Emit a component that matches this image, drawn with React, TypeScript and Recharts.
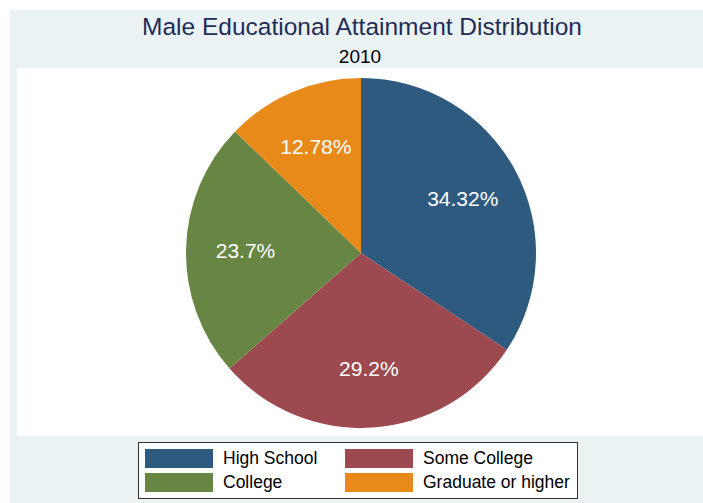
import { Cell, Legend, Pie, PieChart } from 'recharts';

const categories = ['High School', 'Some College', 'College', 'Graduate or higher'];
const shares = [34.32, 29.2, 23.7, 12.78];
const sliceLabels = ['34.32%', '29.2%', '23.7%', '12.78%'];
const colors = ['#2F5A80', '#9C4A50', '#688643', '#E78A1A'];

const chartData = categories.map((name, i) => ({ name, value: shares[i], label: sliceLabels[i] }));

const FONT = '"Liberation Sans", Arial, Helvetica, sans-serif';

const renderLabel = ({ cx, cy, midAngle, outerRadius, index }: any) => {
    const RADIAN = Math.PI / 180;
    const r = outerRadius * 0.66;
    const x = cx + r * Math.cos(-midAngle * RADIAN);
    const y = cy + r * Math.sin(-midAngle * RADIAN);
    return (
        <text x={x} y={y} fill="#fff" textAnchor="middle" dominantBaseline="central"
              fontSize={21} fontFamily={FONT}>
            {chartData[index].label}
        </text>
    );
};

const renderLegend = () => (
    <div style={{ position: 'relative', width: 440, height: 57, boxSizing: 'border-box',
            border: '1px solid #333', background: '#fff', fontFamily: FONT, fontSize: 17.5, color: '#000' }}>
        {chartData.map((entry, i) => {
            const col = i % 2;
            const row = Math.floor(i / 2);
            const top = row === 0 ? 6 : 30;
            return (
                <div key={entry.name}>
                    <div style={{ position: 'absolute', left: 6 + col * 200, top, width: 68, height: 19,
                            background: colors[i] }} />
                    <div style={{ position: 'absolute', left: 84 + col * 200, top, height: 19,
                            lineHeight: '19px', whiteSpace: 'nowrap' }}>
                        {entry.name}
                    </div>
                </div>
            );
        })}
    </div>
);

export default function App() {
    return (
        <div style={{ position: 'absolute', left: 0, top: 0, width: 703, height: 503, overflow: 'hidden' }}>
            <div style={{ position: 'absolute', left: 10, top: 10, right: 0, bottom: 0, background: '#EAF2F3' }} />
            <div style={{ position: 'absolute', left: 17, top: 68, width: 686, height: 368, background: '#fff' }} />
            <div style={{ position: 'absolute', left: 0, top: 15, width: 724, textAlign: 'center',
                    fontFamily: FONT, fontSize: 24.5, lineHeight: '24px', color: '#1F2D57' }}>
                Male Educational Attainment Distribution
            </div>
            <div style={{ position: 'absolute', left: 0, top: 47, width: 720, textAlign: 'center',
                    fontFamily: FONT, fontSize: 19, lineHeight: '19px', color: '#000' }}>
                2010
            </div>
            <div style={{ position: 'absolute', left: 0, top: 0 }}>
                <PieChart width={703} height={503} margin={{ top: 0, right: 0, bottom: 0, left: 0 }}>
                    <Pie data={chartData} dataKey="value" nameKey="name" cx={361} cy={253}
                         outerRadius={175} startAngle={90} endAngle={-270} stroke="none"
                         label={renderLabel} labelLine={false} isAnimationActive={false}>
                        {chartData.map((entry, i) => (
                            <Cell key={`cell-${i}`} fill={colors[i]} />
                        ))}
                    </Pie>
                    <Legend content={renderLegend}
                            wrapperStyle={{ position: 'absolute', left: 138, top: 442, width: 440, height: 57,
                                bottom: 'auto', right: 'auto' }} />
                </PieChart>
            </div>
        </div>
    );
}
